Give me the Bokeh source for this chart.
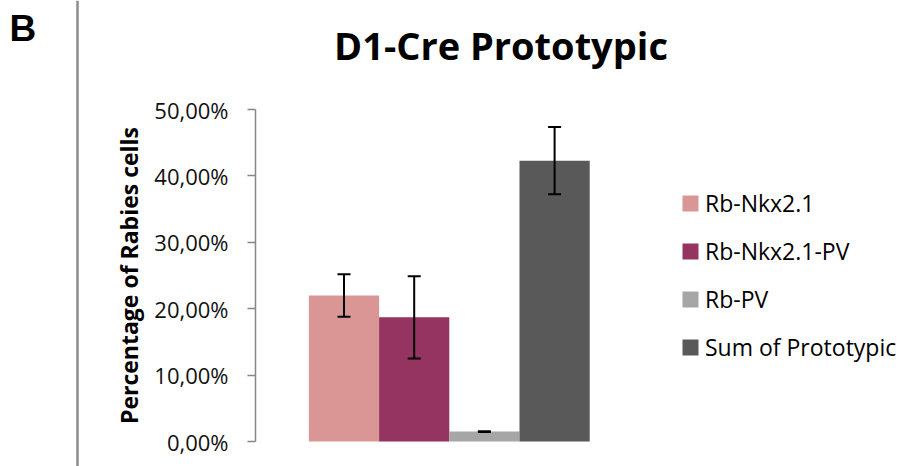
import math
from bokeh.plotting import figure
from bokeh.layouts import row
from bokeh.models import (ColumnDataSource, Range1d, FixedTicker, CustomJSTickFormatter,
                          Whisker, TeeHead, Legend, LegendItem, Label, Span)
from bokeh.embed import file_html
from bokeh.resources import INLINE

# ---- data ----
categories = ["Rb-Nkx2.1", "Rb-Nkx2.1-PV", "Rb-PV", "Sum of Prototypic"]
values = [0.220, 0.187, 0.015, 0.423]
errors = [0.032, 0.062, 0.0006, 0.0505]
colors = ["#D99694", "#953461", "#A6A6A6", "#595959"]
y_ticks = [0.0, 0.1, 0.2, 0.3, 0.4, 0.5]
title_text = "D1-Cre Prototypic"
panel_letter = "B"
y_label = "Percentage of Rabies cells"

FONT = "Open Sans"
W, H = 915, 466
LW = 150                      # width of left strip (panel letter, divider, axis title)
FL = 255                      # frame left (page px)
Y0_PX = 441                   # page y of 0 %
Y50_PX = 109                  # page y of 50 %
PX_PER_BAR = 70.2
FIRST_CENTER = 343.5 - FL     # px from frame left

# ---- left strip ----
s = figure(width=LW, height=H, output_backend="svg", toolbar_location=None,
           x_range=Range1d(0, LW), y_range=Range1d(0, H),
           min_border=0, min_border_left=0, min_border_right=0, min_border_top=0, min_border_bottom=0)
s.axis.visible = False
s.grid.visible = False
s.outline_line_color = None
s.add_layout(Span(location=77, dimension="height", line_color="#8c8c8c", line_width=2.5))
s.add_layout(Label(x=9, y=H - 27.5, x_units="screen", y_units="screen", text=panel_letter,
                   text_font="Liberation Sans", text_font_style="bold", text_font_size="37px",
                   text_align="left", text_baseline="middle", text_color="black"))
s.add_layout(Label(x=128, y=H - (Y0_PX + Y50_PX) / 2, x_units="screen", y_units="screen",
                   text=y_label, angle=math.pi / 2,
                   text_font=FONT, text_font_style="bold", text_font_size="23px",
                   text_align="center", text_baseline="middle", text_color="black"))

# ---- main chart ----
idx = list(range(len(categories)))
src = ColumnDataSource(dict(
    x=idx, top=values, name=categories, color=colors,
    upper=[v + e for v, e in zip(values, errors)],
    lower=[v - e for v, e in zip(values, errors)],
))

frame_w = W - FL
px_per_unit = (Y0_PX - Y50_PX) / 0.5
x0 = -FIRST_CENTER / PX_PER_BAR
x1 = x0 + frame_w / PX_PER_BAR
y0 = -(H - Y0_PX) / px_per_unit
y1 = Y0_PX / px_per_unit

p = figure(width=W - LW, height=H, output_backend="svg", toolbar_location=None,
           x_range=Range1d(x0, x1), y_range=Range1d(y0, y1),
           min_border_left=FL - LW, min_border_top=0, min_border_bottom=0, min_border_right=0)
p.outline_line_color = None
p.xgrid.visible = False
p.ygrid.visible = False
p.xaxis.visible = False

r = p.vbar(x="x", top="top", width=1.0, bottom=0, fill_color="color", line_color=None, source=src)

w = Whisker(base="x", upper="upper", lower="lower", source=src, line_color="black", line_width=2,
            level="overlay",
            upper_head=TeeHead(size=13, line_color="black", line_width=2),
            lower_head=TeeHead(size=13, line_color="black", line_width=2))
p.add_layout(w)

ax = p.yaxis[0]
ax.ticker = FixedTicker(ticks=y_ticks)
ax.bounds = (0, 0.5)
ax.formatter = CustomJSTickFormatter(code="return (tick*100).toFixed(2).replace('.', ',') + '%';")
ax.axis_line_color = "#868686"
ax.axis_line_width = 1.5
ax.major_tick_line_color = "#868686"
ax.major_tick_line_width = 1.5
ax.major_tick_out = 8
ax.major_tick_in = 0
ax.minor_tick_line_color = None
ax.major_label_text_font = FONT
ax.major_label_text_font_size = "22px"
ax.major_label_text_color = "#111111"
ax.major_label_standoff = 19

items = [LegendItem(label=c, renderers=[r], index=i) for i, c in enumerate(categories)]
leg = Legend(items=items, location=(425, H - 363), orientation="vertical",
             glyph_width=20, glyph_height=20, label_height=32, label_standoff=5,
             spacing=16, padding=0, margin=0, border_line_color=None, background_fill_alpha=0,
             label_text_font=FONT, label_text_font_size="23px", label_text_color="black")
p.add_layout(leg)

p.add_layout(Label(x=245.5, y=H - 44.5, x_units="screen", y_units="screen", text=title_text,
                   text_font=FONT, text_font_style="bold", text_font_size="38px",
                   text_align="center", text_baseline="middle", text_color="black"))

layout = row(s, p, spacing=0)
open("out.html", "w").write(file_html(layout, INLINE))
